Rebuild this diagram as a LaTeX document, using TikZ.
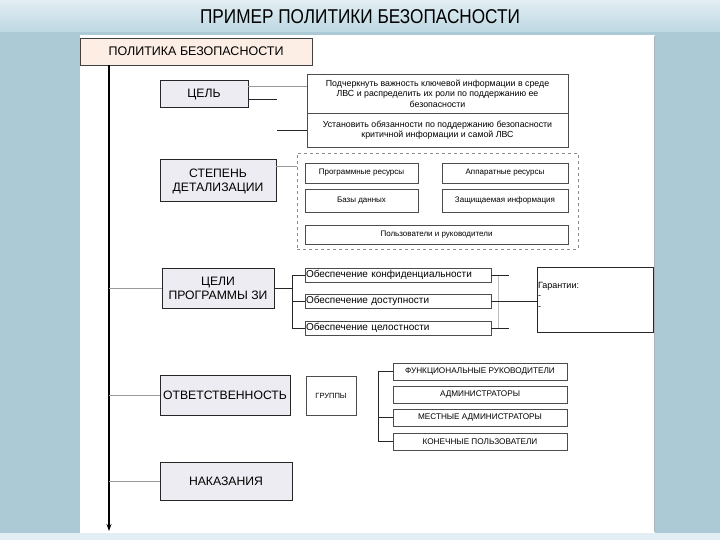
\documentclass[tikz,border=0pt]{standalone}
\usepackage{fontspec}
\setmainfont{Liberation Sans}
\usepackage{xcolor}
\usepackage{tikz}
\usetikzlibrary{arrows.meta, positioning}
\definecolor{slidebg}{RGB}{172,202,214}
\definecolor{bandtop}{RGB}{226,238,243}
\definecolor{bandbot}{RGB}{190,216,226}
\definecolor{headfill}{RGB}{252,238,228}
\definecolor{secfill}{RGB}{236,236,242}

\begin{document}
\begin{tikzpicture}[
  x=1pt, y=-1pt,
  every node/.style={outer sep=0pt},
  head/.style={draw=black!75, fill=headfill, anchor=north west, inner sep=0pt,
               font=\fontsize{12.5}{14}\selectfont},
  sect/.style={draw=black!85, line width=1pt, fill=secfill, anchor=north west, inner sep=0pt,
               align=center, font=\fontsize{12.2}{14}\selectfont},
  item/.style={draw=black!70, fill=white, anchor=north west, inner sep=1pt,
               align=center, font=\fontsize{8}{9.5}\selectfont},
  goalitem/.style={item, text width=184pt, align=left, font=\fontsize{10}{11}\selectfont},
  roleitem/.style={item, minimum width=174pt, minimum height=17pt, font=\fontsize{8.2}{9}\selectfont},
  link/.style={draw=black!85, line width=0.8pt},
  glink/.style={draw=black!40, line width=0.8pt},
  axis/.style={-{Stealth[length=7pt, width=5pt]}, line width=1.1pt}
]
  % slide background
  \fill[slidebg] (0,0) rectangle (720,540);
  \shade[top color=bandtop, bottom color=bandbot] (0,0) rectangle (720,32);
  \fill[bandtop] (0,533) rectangle (720,540);
  \fill[white] (80,35) rectangle (655,533);
  \draw[black!30] (654,36) -- (654,532);
  \node (title) at (360,17) {\scalebox{0.86}[1]{\fontsize{20}{22}\selectfont ПРИМЕР ПОЛИТИКИ БЕЗОПАСНОСТИ}};

  % left column
  \node[head, minimum width=232pt, minimum height=27pt] (pol) at (80,38) {ПОЛИТИКА БЕЗОПАСНОСТИ};
  \node[sect, minimum width=88pt, minimum height=27pt] (goal) at (160,81) {ЦЕЛЬ};
  \node[sect, minimum width=116pt, minimum height=42pt] (level) at (160,160) {СТЕПЕНЬ\\ДЕТАЛИЗАЦИИ};
  \node[sect, minimum width=112pt, minimum height=40pt] (prog) at (162,268) {ЦЕЛИ\\ПРОГРАММЫ ЗИ};
  \node[sect, minimum width=130pt, minimum height=40pt] (resp) at (160,375) {ОТВЕТСТВЕННОСТЬ};
  \node[sect, minimum width=132pt, minimum height=38pt] (pun) at (160,462) {НАКАЗАНИЯ};

  \coordinate (axtop) at (109,65);
  \coordinate (axbot) at (109,531);
  \draw[axis] (axtop) -- (axbot);

  % goals
  \node[item, minimum width=261pt, minimum height=39pt, font=\fontsize{8.8}{10.5}\selectfont] (g1) at (307,74)
    {Подчеркнуть важность ключевой информации в среде\\ЛВС и распределить их роли по поддержанию ее\\безопасности};
  \node[item, minimum width=261pt, minimum height=34pt, font=\fontsize{8.8}{10.5}\selectfont] (g2) at (307,113)
    {Установить обязанности по поддержанию безопасности\\критичной информации и самой ЛВС};

  % level of detail
  \node[draw=black!45, dashed, anchor=north west, minimum width=281pt, minimum height=96pt] (detbox) at (297,153) {};
  \node[item, minimum width=113pt, minimum height=20pt] (r1) at (305,163) {Программные ресурсы};
  \node[item, minimum width=126pt, minimum height=20pt] (r2) at (442,163) {Аппаратные ресурсы};
  \node[item, minimum width=113pt, minimum height=23pt] (r3) at (305,189) {Базы данных};
  \node[item, minimum width=126pt, minimum height=23pt] (r4) at (442,189) {Защищаемая информация};
  \node[item, minimum width=263pt, minimum height=19pt] (r5) at (305,225) {Пользователи и руководители};

  % program goals
  \node[goalitem, minimum height=14pt] (c1) at (305,268) {Обеспечение конфиденциальности};
  \node[goalitem, minimum height=14pt] (c2) at (305,294) {Обеспечение доступности};
  \node[goalitem, minimum height=14pt] (c3) at (305,321) {Обеспечение целостности};
  \node[draw=black!85, anchor=north west, minimum width=116pt, minimum height=65pt] (guar) at (537,267) {};
  \node[anchor=west, inner sep=1pt, align=left, font=\fontsize{9}{10.5}\selectfont]
    (guartext) at ([yshift=4pt]guar.west) {Гарантии:\\-\\-};

  % responsibility
  \node[item, minimum width=50pt, minimum height=39pt, font=\fontsize{7.5}{9}\selectfont] (grp) at (306,376) {ГРУППЫ};
  \node[roleitem] (u1) at (393,363) {ФУНКЦИОНАЛЬНЫЕ РУКОВОДИТЕЛИ};
  \node[roleitem] (u2) at (393,386) {АДМИНИСТРАТОРЫ};
  \node[roleitem] (u3) at (393,409) {МЕСТНЫЕ АДМИНИСТРАТОРЫ};
  \node[roleitem] (u4) at (393,433) {КОНЕЧНЫЕ ПОЛЬЗОВАТЕЛИ};

  % connectors
  \draw[glink] (prog.west -| axtop) -- (prog.west);
  \draw[glink] (resp.west -| axtop) -- (resp.west);
  \draw[glink] (pun.west -| axtop) -- (pun.west);

  \draw[glink] ([yshift=8.5pt]goal.east) -- ([yshift=8.5pt]goal.east -| g1.west);
  \draw[link] ([yshift=-5pt]goal.east) -- ++(29,0);
  \draw[link] (g2.west) -- ++(-30,0);
  \draw[glink] ([yshift=15pt]level.east) -- ([yshift=15pt]level.east -| detbox.west);

  \coordinate (pbr) at (292,0);
  \draw[link] (c1.west) -- (c1.west -| pbr) -- (c3.west -| pbr) -- (c3.west);
  \draw[link] (c2.west) -- (c2.west -| pbr);
  \draw[link] (prog.east) -- (prog.east -| pbr);
  \draw[glink, black!25] ([xshift=7pt]c1.east) -- ([xshift=7pt]c3.east);
  \draw[link] (c1.east) -- ++(18,0);
  \draw[link] (c3.east) -- ++(18,0);
  \draw[link] (c2.east) -- (c2.east -| guar.west);

  \coordinate (rbr) at (378,0);
  \draw[link] (u1.west) -- (u1.west -| rbr) -- (u4.west -| rbr) -- (u4.west);
  \draw[link] (u3.west) -- (u3.west -| rbr);
\end{tikzpicture}
\end{document}
